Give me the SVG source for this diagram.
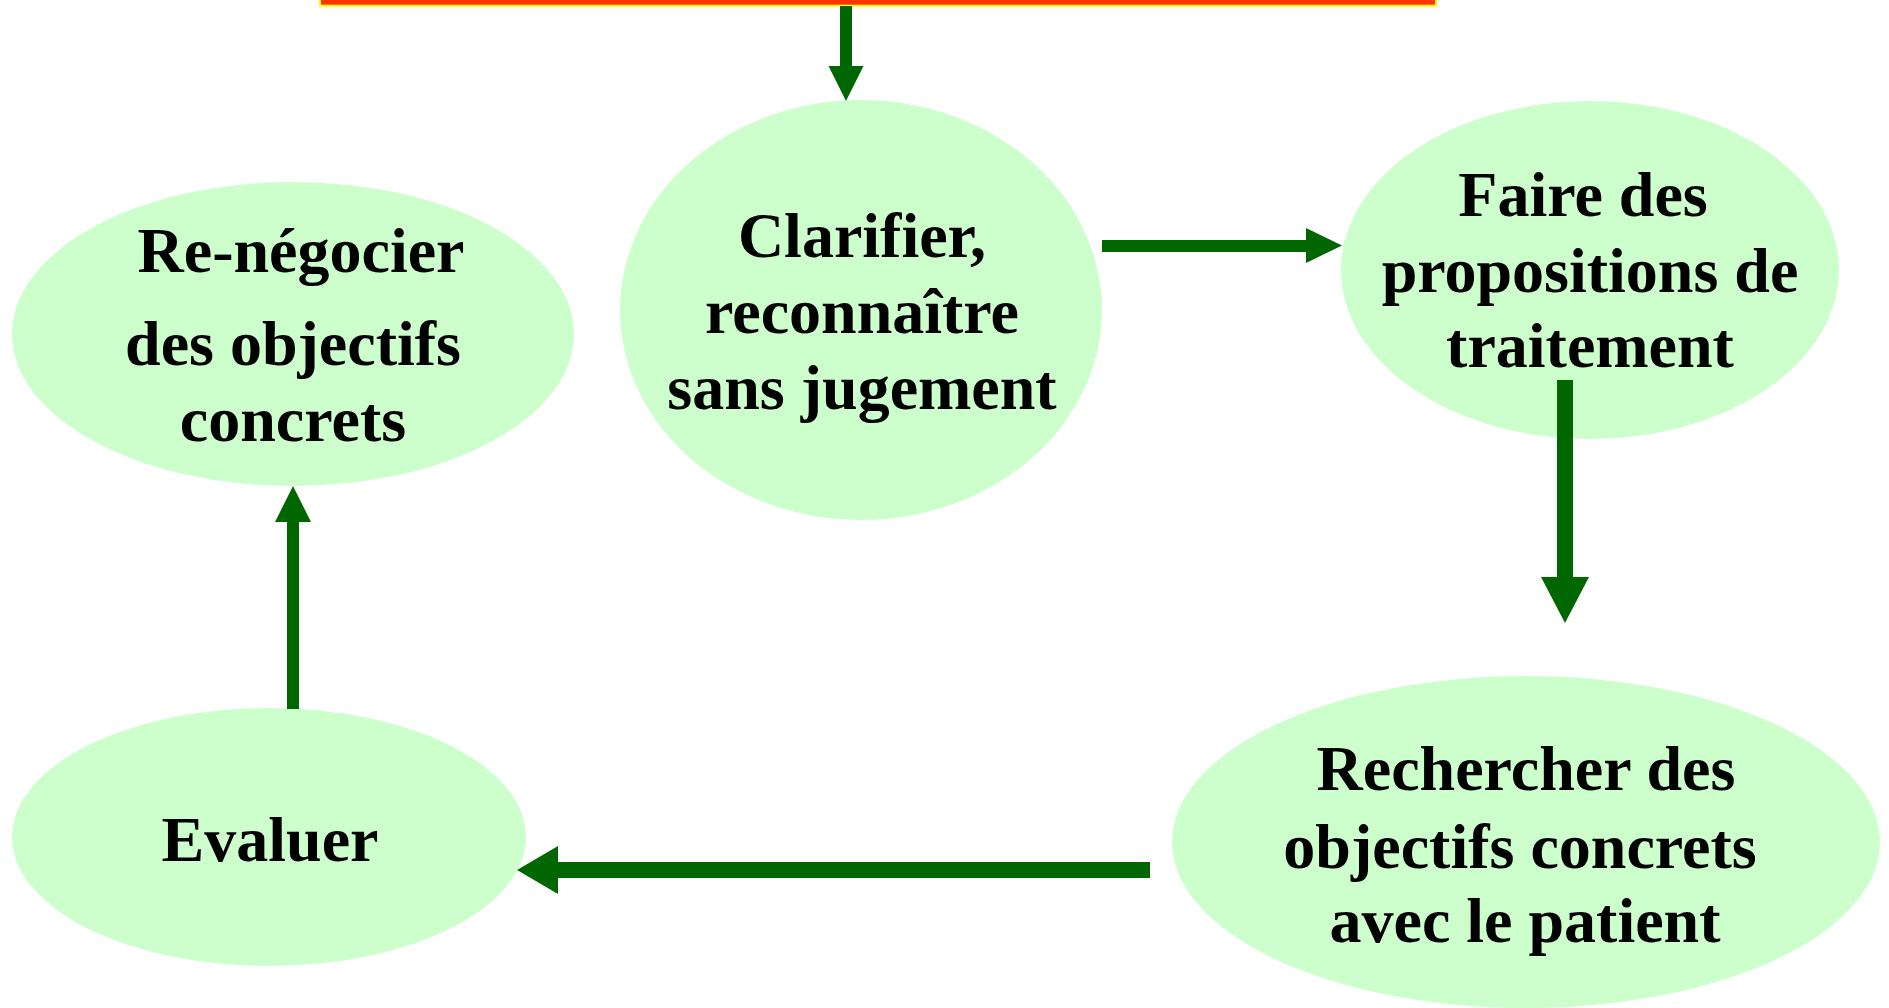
<svg xmlns="http://www.w3.org/2000/svg" width="1889" height="1008" viewBox="0 0 1889 1008">
<style>
.node ellipse{fill:#CCFFCC;stroke:none}
.node text{font-family:"Liberation Serif","Times New Roman",serif;font-weight:bold;font-size:64px;fill:#000;text-anchor:middle}
.conn polygon,.conn rect{fill:#006600;stroke:none}
</style>
<rect width="1889" height="1008" fill="#FFFFFF"/>
<g id="topbar">
<rect x="320" y="-10" width="1116" height="15.7" fill="#FF3300" stroke="#FFFF00" stroke-width="2"/>
</g>
<g id="n-clarifier" class="node">
<ellipse cx="861" cy="310" rx="241" ry="210"/>
<text x="862" y="257">Clarifier,</text>
<text x="862" y="333">reconnaître</text>
<text x="862" y="409">sans jugement</text>
</g>
<g id="n-faire" class="node">
<ellipse cx="1590" cy="270" rx="249" ry="169"/>
<text x="1583" y="216">Faire des</text>
<text x="1590" y="292">propositions de</text>
<text x="1590" y="367">traitement</text>
</g>
<g id="n-rechercher" class="node">
<ellipse cx="1526" cy="842" rx="354" ry="166"/>
<text x="1526" y="790">Rechercher des</text>
<text x="1520" y="868">objectifs concrets</text>
<text x="1525" y="942">avec le patient</text>
</g>
<g id="n-evaluer" class="node">
<ellipse cx="269" cy="837" rx="257" ry="129"/>
<text x="270" y="861">Evaluer</text>
</g>
<g id="n-renegocier" class="node">
<ellipse cx="293" cy="334" rx="281" ry="152"/>
<text x="301" y="272">Re-négocier</text>
<text x="293" y="365">des objectifs</text>
<text x="293" y="441">concrets</text>
</g>
<g id="connectors" class="conn">
<rect x="840" y="6" width="12" height="61"/>
<polygon points="828.5,66 863.5,66 846,101"/>
<rect x="1102" y="240" width="205" height="12"/>
<polygon points="1306,228 1306,263 1342,245.5"/>
<rect x="1557" y="380" width="16" height="198"/>
<polygon points="1541,577 1589,577 1565,623"/>
<rect x="557" y="862" width="593" height="16"/>
<polygon points="558,846 558,894 517,870"/>
<rect x="287" y="521" width="12" height="188"/>
<polygon points="275,522 311,522 293,486"/>
</g>
</svg>
